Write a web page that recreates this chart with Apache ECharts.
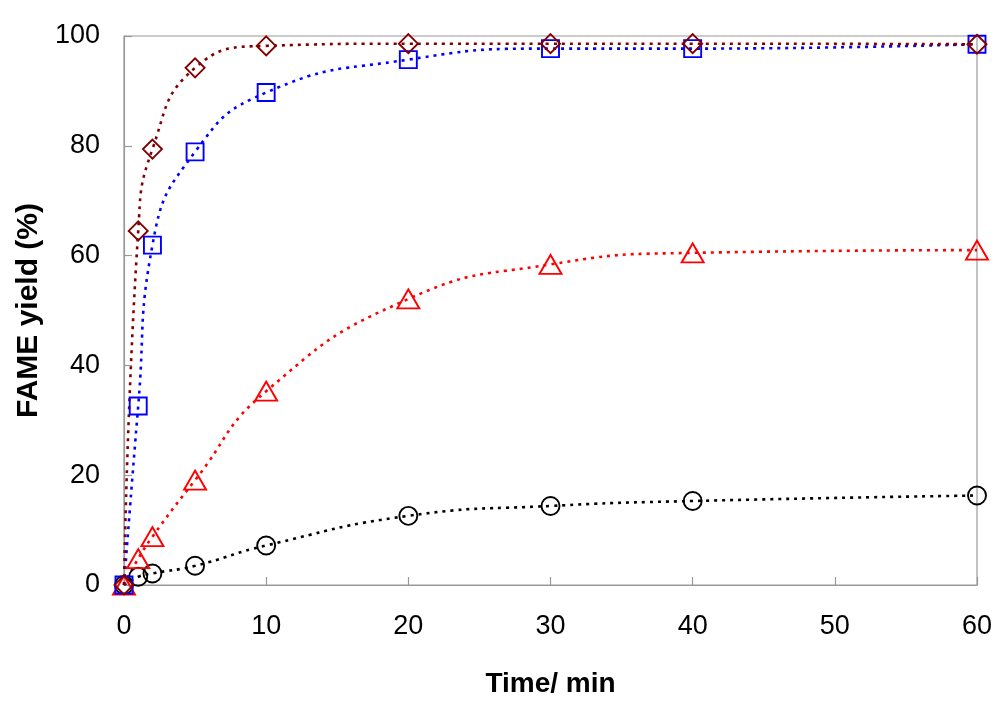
<!DOCTYPE html>
<html>
<head>
<meta charset="utf-8">
<script src="https://cdn.jsdelivr.net/npm/echarts@6/dist/echarts.min.js"></script>
<style>
html,body{margin:0;padding:0;background:#fff;}
#chart{width:1000px;height:707px;}
</style>
</head>
<body>
<div id="chart"></div>
<script>
const timeMin = [0, 1, 2, 5, 10, 20, 30, 40, 60];
const seriesDiamond = [0, 64.5, 79.4, 94.2, 98.2, 98.6, 98.6, 98.6, 98.5];
const seriesSquare = [0, 32.6, 61.9, 78.9, 89.7, 95.7, 97.7, 97.7, 98.5];
const seriesTriangle = [0, 4.8, 8.8, 19.1, 35.3, 52.1, 58.4, 60.5, 61.0];
const seriesCircle = [0, 1.5, 2.1, 3.5, 7.2, 12.6, 14.4, 15.3, 16.3];
const yTicks = [0, 20, 40, 60, 80, 100];
const xTicks = [0, 10, 20, 30, 40, 50, 60];

const FONT = '"Liberation Sans", Arial, sans-serif';

function pairs(ys) { return timeMin.map((t, i) => [t, ys[i]]); }

function mk(name, data, color, symbol, size) {
  return {
    name: name,
    type: 'line',
    data: pairs(data),
    smooth: 0.5,
    symbol: symbol,
    symbolSize: size,
    showAllSymbol: true,
    lineStyle: { color: color, width: 2.6, type: [3, 5] },
    itemStyle: { color: 'rgba(255,255,255,0)', borderColor: color, borderWidth: 1.9 },
    z: 2
  };
}

const chart = echarts.init(document.getElementById('chart'), null, { renderer: 'canvas' });
chart.setOption({
  animation: false,
  backgroundColor: '#fff',
  grid: { left: 124, right: 23, top: 36, bottom: 122, show: true, borderColor: '#999', borderWidth: 1.2, backgroundColor: 'transparent' },
  xAxis: {
    type: 'value', min: xTicks[0], max: xTicks[xTicks.length - 1], interval: 10,
    name: 'Time/ min', nameLocation: 'middle', nameGap: 85,
    nameTextStyle: { fontFamily: FONT, fontSize: 28, fontWeight: 'bold', color: '#000' },
    axisLine: { show: true, lineStyle: { color: '#999', width: 1.2 } },
    axisTick: { show: true, inside: true, length: 8, lineStyle: { color: '#999', width: 1.2 } },
    axisLabel: { fontFamily: FONT, fontSize: 27, color: '#000', margin: 28 },
    splitLine: { show: false }
  },
  yAxis: {
    type: 'value', min: yTicks[0], max: yTicks[yTicks.length - 1], interval: 20,
    name: 'FAME yield (%)', nameLocation: 'middle', nameGap: 80,
    nameTextStyle: { fontFamily: FONT, fontSize: 30, fontWeight: 'bold', color: '#000' },
    axisLine: { show: true, lineStyle: { color: '#999', width: 1.2 } },
    axisTick: { show: true, inside: true, length: 8, lineStyle: { color: '#999', width: 1.2 } },
    axisLabel: { fontFamily: FONT, fontSize: 27, color: '#000', margin: 24 },
    splitLine: { show: false }
  },
  series: [
    mk('Circle', seriesCircle, '#000000', 'circle', 18),
    mk('Triangle', seriesTriangle, '#FF0000', 'triangle', [22, 19]),
    mk('Square', seriesSquare, '#0000FF', 'rect', 17),
    mk('Diamond', seriesDiamond, '#800000', 'diamond', [19, 19])
  ]
});
</script>
</body>
</html>
